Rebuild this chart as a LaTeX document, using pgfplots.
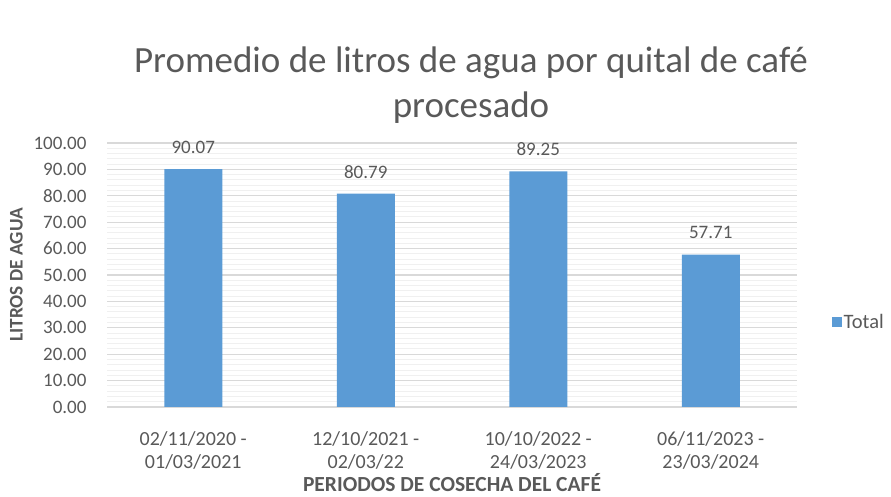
\documentclass[border=0pt]{standalone}
\usepackage{pgfplots}
\pgfplotsset{compat=1.18}
\usepackage{fontspec}
\setmainfont{Carlito}
\definecolor{barblue}{HTML}{5B9BD5}
\definecolor{txtgray}{HTML}{595959}
\definecolor{majgrid}{HTML}{D9D9D9}
\definecolor{mingrid}{HTML}{F0F0F0}
\begin{document}
\begin{tikzpicture}[x=1bp,y=1bp]
\useasboundingbox (0,0) rectangle (891,497);
\begin{axis}[
  at={(107bp,90bp)}, anchor=south west,
  scale only axis, width=690bp, height=264bp,
  xmin=-0.5, xmax=3.5, ymin=0, ymax=100,
  ybar, bar width=58bp,
  xtick={0,1,2,3},
  xticklabels={{02/11/2020 -\\01/03/2021},{12/10/2021 -\\02/03/22},{10/10/2022 -\\24/03/2023},{06/11/2023 -\\23/03/2024}},
  xticklabel style={align=center, font=\fontsize{20bp}{23bp}\selectfont, text=txtgray, yshift=-21bp},
  ytick={0,10,...,100},
  minor ytick={2,4,...,98},
  yticklabel style={font=\fontsize{19bp}{20bp}\selectfont, text=txtgray, xshift=-17bp},
  /pgf/number format/assume math mode=true,
  yticklabel={\pgfmathprintnumber[fixed,fixed zerofill,precision=2]{\tick}},
  ymajorgrids, yminorgrids,
  major grid style={majgrid, line width=1.2bp},
  minor grid style={mingrid, line width=1bp},
  axis line style={draw=none},
  major tick length=0, minor tick length=0,
  tick style={draw=none},
  axis x line*=bottom,
  x axis line style={draw=majgrid, line width=1.5bp},
  nodes near coords={\pgfmathprintnumber[fixed,fixed zerofill,precision=2]{\pgfplotspointmeta}},
  nodes near coords style={font=\fontsize{19bp}{20bp}\selectfont, text=txtgray, yshift=12bp},
  xlabel={PERIODOS DE COSECHA DEL CAFÉ},
  ylabel={LITROS DE AGUA},
  xlabel style={font=\fontsize{21.5bp}{24bp}\selectfont\bfseries, text=txtgray, inner sep=0pt, yshift=-1bp},
  ylabel style={font=\fontsize{19.3bp}{22bp}\selectfont\bfseries, text=txtgray, yshift=4bp},
  legend style={at={(1.050,0.322)}, anchor=west, draw=none, fill=none, inner sep=0pt, font=\fontsize{20.5bp}{22bp}\selectfont, text=txtgray},
  legend image code/.code={\fill[barblue] (0bp,-5bp) rectangle (10bp,5bp);},
  clip=false,
]
\addplot[fill=barblue, draw=none] coordinates {(0,90.07) (1,80.79) (2,89.25) (3,57.71)};
\addlegendentry{Total}
\end{axis}
\node[text=txtgray, font=\fontsize{37bp}{45bp}\selectfont, align=center] at (471,412) {Promedio de litros de agua por quital de café\\procesado};
\end{tikzpicture}
\end{document}
